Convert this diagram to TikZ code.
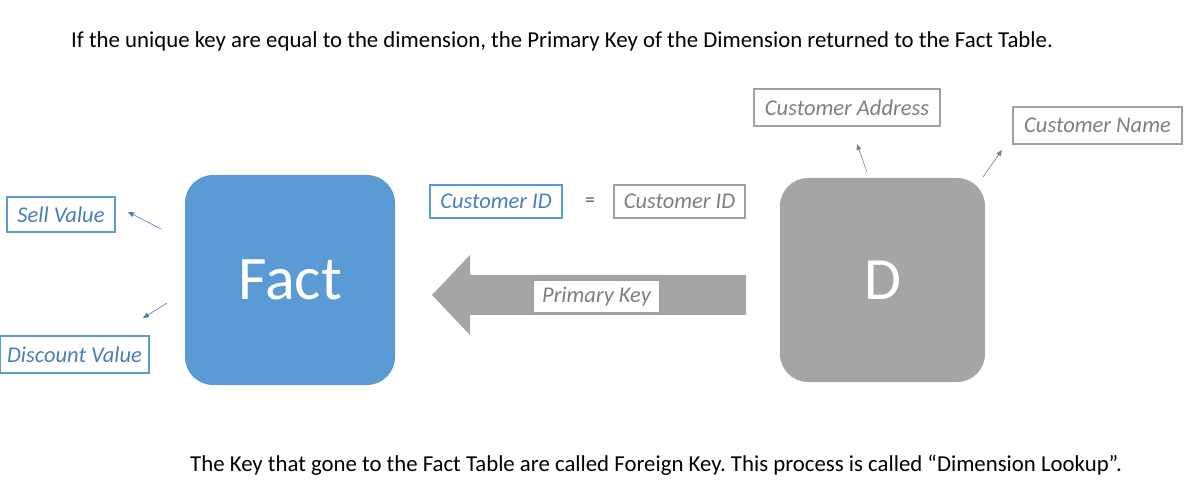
\documentclass[tikz,border=0pt]{standalone}
\usepackage{fontspec}
\setmainfont{Carlito}
\usetikzlibrary{arrows.meta}
\frenchspacing
\definecolor{fblue}{HTML}{5B9BD5}
\definecolor{tblue}{HTML}{4A7EBB}
\definecolor{dgray}{HTML}{A5A5A5}
\definecolor{tgray}{HTML}{7F7F7F}
\definecolor{bgray}{HTML}{A0A0A0}
\tikzset{
  bluebox/.style={draw=fblue, line width=1.8pt, fill=white, inner sep=0pt, font=\fontsize{22.5}{26}\selectfont\itshape, text=tblue},
  graybox/.style={draw=bgray, line width=1.8pt, fill=white, inner sep=0pt, font=\fontsize{22.5}{26}\selectfont\itshape, text=tgray},
  bigbox/.style={rounded corners=28pt, inner sep=0pt, text=white},
  bluearr/.style={draw=tblue, line width=0.6pt, -{Triangle[length=6pt,width=5pt]}},
  grayarr/.style={draw=tgray, line width=0.6pt, -{Triangle[length=6pt,width=5pt]}},
  caption/.style={text=black, inner sep=0pt}
}
\begin{document}
\begin{tikzpicture}[x=1pt,y=-1pt]
\useasboundingbox (0,0) rectangle (1189,486);
% title
\node[caption, anchor=west, font=\fontsize{22.8}{26}\selectfont] (title) at (71,41) {If the unique key are equal to the dimension, the Primary Key of the Dimension returned to the Fact Table.};
% big boxes
\node[bigbox, fill=fblue, minimum width=210pt, minimum height=210pt, font=\fontsize{62}{70}\selectfont] (fact) at (290,280) {Fact};
\node[bigbox, fill=dgray, minimum width=205pt, minimum height=204pt, font=\fontsize{60}{70}\selectfont] (dim) at (882.5,280) {D};
% big arrow
\fill[dgray] (746,275) -- (470,275) -- (470,255) -- (432,295) -- (470,335) -- (470,315) -- (746,315) -- cycle;
\node[graybox, minimum width=127pt, minimum height=33pt, line width=1.2pt] (pk) at (596.5,296.5) {Primary Key};
% customer id boxes
\node[bluebox, minimum width=132pt, minimum height=33pt] (cid1) at (496,201.5) {Customer ID};
\node[font=\fontsize{20}{24}\selectfont, text=tgray!70!black] (eq) at (590,202) {=};
\node[graybox, minimum width=131pt, minimum height=33pt] (cid2) at (679.5,201.5) {Customer ID};
% left attribute boxes
\node[bluebox, minimum width=108pt, minimum height=35pt] (sell) at (61,214.5) {Sell Value};
\node[bluebox, minimum width=149pt, minimum height=37pt] (disc) at (74.5,354.5) {Discount Value};
\coordinate (s0) at (161,229);
\coordinate (s1) at (128,212);
\draw[bluearr] (s0) -- (s1);
\coordinate (d0) at (167,303);
\coordinate (d1) at (143,318);
\draw[bluearr] (d0) -- (d1);
% right attribute boxes
\node[graybox, minimum width=186pt, minimum height=37pt] (addr) at (847,107.5) {Customer Address};
\node[graybox, minimum width=169pt, minimum height=37pt] (name) at (1097.5,125.5) {Customer Name};
\coordinate (a0) at (867,172);
\coordinate (a1) at (857,144);
\draw[grayarr] (a0) -- (a1);
\coordinate (n0) at (983,177);
\coordinate (n1) at (1002,150);
\draw[grayarr] (n0) -- (n1);
% bottom text
\node[caption, anchor=west, font=\fontsize{22.8}{26}\selectfont] (foot) at (190,465) {The Key that gone to the Fact Table are called Foreign Key. This process is called “Dimension Lookup”.};
\end{tikzpicture}
\end{document}
